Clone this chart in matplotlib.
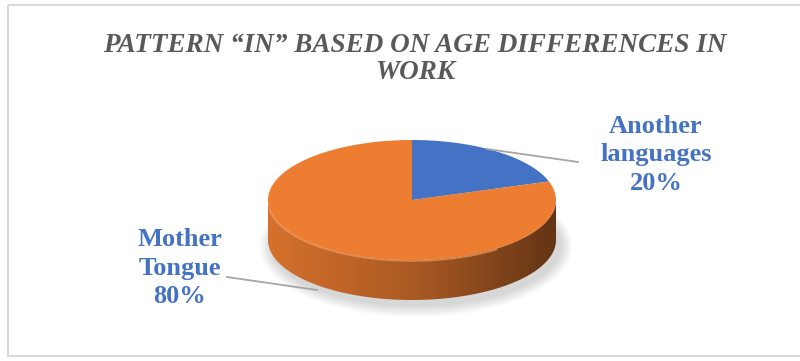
import numpy as np
import matplotlib.pyplot as plt
from matplotlib.patches import Polygon, Ellipse, Rectangle
from matplotlib.colors import LinearSegmentedColormap, to_rgb

# Données
labels = ['Another\nlanguages', 'Mother\nTongue']
values = [20, 80]
colors = ['#4472C4', '#ED7D31']
title = 'PATTERN \u201cIN\u201d BASED ON AGE DIFFERENCES IN\nWORK'

# géométrie du camembert (en pixels)
cx, cy = 412, 200
a, b = 144, 60
depth = 40

fig = plt.figure(figsize=(8, 3.61), dpi=100)
ax = fig.add_axes([0, 0, 1, 1])
ax.set_xlim(0, 800)
ax.set_ylim(361, 0)
ax.axis('off')

# cadre
ax.add_patch(Rectangle((8, 5), 800, 351, fill=False, ec='#d9d9d9', lw=1.5))


def ell(t, dy=0):
    return cx + a * np.cos(t), cy - b * np.sin(t) + dy


# ombre
for k in range(8):
    ax.add_patch(Ellipse((cx + 4, cy + depth + 6), 2 * a + 24 - 3 * k, 2 * b + 22 - 3 * k,
                         fc='#000000', alpha=0.018, ec='none', zorder=1))

total = sum(values)
start = np.pi / 2
angles = []
for v in values:
    end = start - 2 * np.pi * v / total
    angles.append((start, end))
    start = end

# côtés (partie avant seulement)
for (t0, t1), c in zip(angles, colors):
    lo, hi = min(t0, t1), max(t0, t1)
    pieces = []
    for off in [0, -2 * np.pi, 2 * np.pi]:
        s0, s1 = max(lo + off, np.pi), min(hi + off, 2 * np.pi)
        if s1 > s0:
            pieces.append((s0, s1))
    for s0, s1 in pieces:
        t = np.linspace(s0, s1, 200)
        x, y = ell(t)
        xb, yb = ell(t[::-1], depth)
        poly = Polygon(np.column_stack([np.r_[x, xb], np.r_[y, yb]]), fc='none', ec='none')
        ax.add_patch(poly)
        rgb = np.array(to_rgb(c))
        cmap = LinearSegmentedColormap.from_list('side', [rgb * 0.9, rgb * 0.72, rgb * 0.42])
        grad = np.linspace(0, 1, 256).reshape(1, -1)
        im = ax.imshow(grad, cmap=cmap, extent=(cx - a, cx + a, cy + depth + b, cy - b),
                       aspect='auto', zorder=2)
        im.set_clip_path(poly)

# dessus
for (t0, t1), c in zip(angles, colors):
    t = np.linspace(t0, t1, 200)
    x, y = ell(t)
    pts = np.column_stack([np.r_[cx, x], np.r_[cy, y]])
    ax.add_patch(Polygon(pts, fc=c, ec='none', zorder=3))

# reflet sur le bord avant
t = np.linspace(np.pi * 1.05, np.pi * 1.7, 100)
x, y = ell(t, 1)
ax.plot(x, y, color='#f6a56a', lw=1.2, alpha=0.6, zorder=4)

# étiquettes
ax.plot([487, 578], [149, 162], color='#a6a6a6', lw=1.3, zorder=4)
ax.plot([227, 317], [277, 290], color='#a6a6a6', lw=1.3, zorder=4)
lab_pos = [(656, 155), (180, 268)]
for lab, v, (px, py) in zip(labels, values, lab_pos):
    ax.text(px, py, f'{lab}\n{v}%', ha='center', va='center', color='#4472C4',
            fontsize=19, fontweight='bold', family='Liberation Serif', linespacing=1.3)

ax.text(415, 59, title, ha='center', va='center', color='#595959', fontsize=19.5,
        fontweight='bold', style='italic', family='Liberation Serif', linespacing=1.15)

fig.savefig('out.png', dpi=100)
